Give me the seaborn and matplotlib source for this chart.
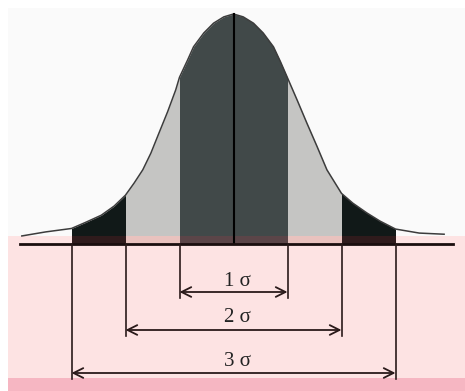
import numpy as np
import pandas as pd
import matplotlib
matplotlib.use("Agg")
import matplotlib.pyplot as plt
import seaborn as sns

# curve: x in sigma units, height in density units (peak 0.40)
x_sigma = [-3.92, -3.48, -3.0, -2.73, -2.45, -2.21, -2.0, -1.84, -1.68, -1.53,
           -1.38, -1.22, -1.07, -1.0, -0.85, -0.74, -0.55, -0.37, -0.18, 0.0,
           0.18, 0.37, 0.55, 0.74, 0.87, 1.0, 1.18, 1.36, 1.55, 1.73,
           2.0, 2.21, 2.47, 2.71, 3.0, 3.44, 3.90]
density = [0.014, 0.021, 0.027, 0.038, 0.050, 0.066, 0.085, 0.106, 0.129, 0.158,
           0.193, 0.230, 0.268, 0.290, 0.320, 0.343, 0.367, 0.384, 0.395, 0.400,
           0.395, 0.384, 0.367, 0.343, 0.317, 0.289, 0.250, 0.210, 0.169, 0.129,
           0.088, 0.071, 0.054, 0.040, 0.026, 0.019, 0.017]

sigma_levels = [1, 2, 3]
sigma_labels = ["1 σ", "2 σ", "3 σ"]

# band colours: (main fill, fill inside the pink strip)
band_colors = {1: ("#414949", "#5b4548"),
               2: ("#c5c5c3", "#e9c2be"),
               3: ("#111918", "#2f1b1c")}

df = pd.DataFrame({"x": x_sigma, "d": density})

# pixel layout helpers (image is 465 x 391, centre at 233.5 px, 1 sigma = 54 px)
CX, SX, BASE, KY = 233.5, 54.0, 244.0, 0.4 / 230.0
def px2x(px):
    return (px - CX) / SX
def px2y(py):
    return (BASE - py) * KY

fig = plt.figure(figsize=(4.65, 3.91), dpi=100)
ax = fig.add_axes([0, 0, 1, 1])

# backgrounds
ax.fill_between([px2x(8), px2x(465)], px2y(236), px2y(8), color="#fafafa", lw=0, zorder=0)
ax.fill_between([px2x(8), px2x(465)], px2y(378), px2y(236), color="#fde3e3", lw=0, zorder=0)
ax.fill_between([px2x(8), px2x(465)], px2y(391), px2y(378), color="#f6b6c2", lw=0, zorder=0)

strip = px2y(236)
xs = np.array(x_sigma)
ds = np.array(density)
lower = 0
for lvl in sigma_levels:
    main, tint = band_colors[lvl]
    for sgn in (-1, 1):
        lo, hi = sorted([sgn * lower, sgn * lvl])
        m = (xs >= lo) & (xs <= hi)
        ax.fill_between(xs[m], strip, ds[m], color=main, lw=0, zorder=1)
        ax.fill_between([lo, hi], 0, strip, color=tint, lw=0, zorder=1)
    lower = lvl

sns.lineplot(data=df, x="x", y="d", ax=ax, color="#3c3c3c", lw=1.1, zorder=3,
             sort=False, legend=False)
ax.set_xlim(px2x(0), px2x(465))
ax.set_ylim(px2y(391), px2y(0))
ax.axis("off")

# centre line and base line
ax.plot([0, 0], [0, max(density)], color="#000000", lw=1.5, zorder=4)
ax.plot([px2x(20), px2x(453)], [0, 0], color="#1a0e0e", lw=2.0, zorder=4)

# sigma brackets
arrow_y = [292, 330, 373]
label_y = [281, 317, 361]
for lvl, lab, ay, ly in zip(sigma_levels, sigma_labels, arrow_y, label_y):
    for sgn in (-1, 1):
        ax.plot([sgn * lvl, sgn * lvl], [0, px2y(ay + 6)], color="#2a1a1a", lw=1.2, zorder=4)
    ax.annotate("", xy=(lvl, px2y(ay)), xytext=(-lvl, px2y(ay)),
                arrowprops=dict(arrowstyle="<->,head_length=0.7,head_width=0.35",
                                color="#2a1a1a", lw=1.3, shrinkA=0, shrinkB=0),
                zorder=5)
    ax.text(0.08, px2y(ly), lab, ha="center", va="center", fontsize=15,
            family=["Liberation Serif", "DejaVu Serif"], color="#222222", zorder=5)

fig.savefig("out.png", dpi=100)
